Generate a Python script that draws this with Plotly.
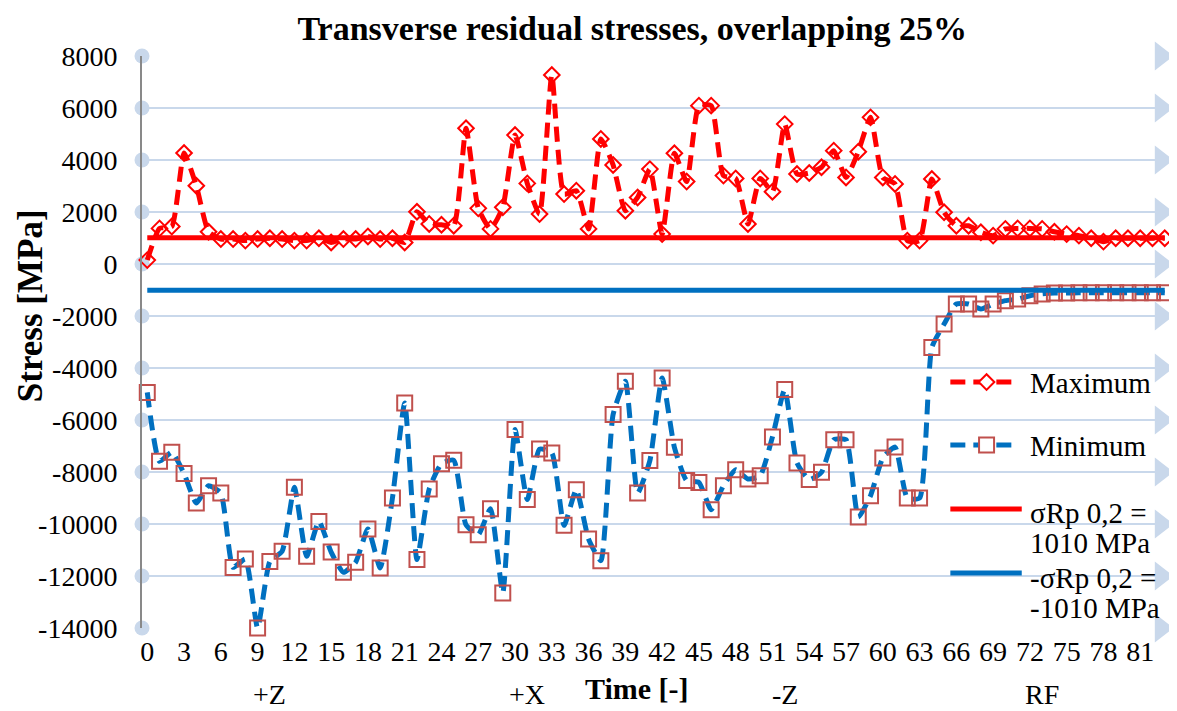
import plotly.graph_objects as go

# data
time = list(range(84))
max_stress = [150, 1370, 1440, 4270, 3010, 1240, 960, 960, 900, 960,
              990, 960, 900, 900, 990, 830, 960, 960, 1060, 960,
              990, 830, 2010, 1540, 1510, 1470, 5220, 2140, 1350, 2180,
              4960, 3100, 1920, 7270, 2690, 2820, 1350, 4810, 3810, 2050,
              2560, 3650, 1150, 4260, 3170, 6090, 6090, 3400, 3290, 1540,
              3290, 2780, 5380, 3460, 3500, 3720, 4360, 3330, 4320, 5640,
              3330, 3080, 900, 900, 3270, 1990, 1470, 1470, 1220, 1090,
              1350, 1370, 1370, 1350, 1240, 1150, 1090, 990, 860, 990,
              990, 990, 990, 990]
min_stress = [-4940, -7590, -7240, -8060, -9190, -8530, -8810, -11670, -11350, -14000,
              -11440, -11050, -8590, -11240, -9900, -11080, -11860, -11470, -10190, -11690,
              -9000, -5350, -11370, -8650, -7680, -7550, -10030, -10410, -9410, -12650,
              -6370, -9060, -7120, -7270, -10050, -8680, -10580, -11410, -5790, -4510,
              -8810, -7560, -4380, -7050, -8330, -8400, -9450, -8530, -7910, -8270,
              -8140, -6650, -4830, -7650, -8290, -8010, -6760, -6760, -9730, -8910,
              -7460, -7040, -9000, -9000, -3210, -2310, -1540, -1540, -1730, -1540,
              -1410, -1350, -1220, -1150, -1120, -1120, -1110, -1110, -1110, -1110,
              -1110, -1110, -1110, -1110]
rp02 = 1010
y_ticks = list(range(-14000, 8001, 2000))
x_ticks = list(range(0, 82, 3))
segment_labels = ["+Z", "+X", "-Z", "RF"]
segment_len = 21

FONT = "Liberation Serif, Times New Roman, serif"
RED = "#ff0000"
BLUE = "#0070c0"
BOX = "#c0504d"
GRID = "#c9d8eb"
X_RANGE = [-0.43, 84.0]
DASH = "15px,8px"

fig = go.Figure()

# gridline decorations: round dots on the axis, arrow heads on the right
fig.add_trace(go.Scatter(
    x=[X_RANGE[0]] * len(y_ticks), y=y_ticks, mode="markers",
    marker=dict(symbol="circle", size=15, color=GRID),
    cliponaxis=False, hoverinfo="skip", showlegend=False))
fig.add_trace(go.Scatter(
    x=[X_RANGE[1] - 1.3] * len(y_ticks), y=y_ticks, mode="markers",
    marker=dict(symbol="triangle-right", size=25, color=GRID),
    cliponaxis=False, hoverinfo="skip", showlegend=False))

# series
fig.add_trace(go.Scatter(
    x=time, y=max_stress, mode="lines+markers", name="Maximum",
    line=dict(color=RED, width=5, dash=DASH, shape="spline", smoothing=0.5),
    marker=dict(symbol="diamond-open", size=12, color=RED, line=dict(width=2, color=RED)),
    cliponaxis=False, showlegend=False))
fig.add_trace(go.Scatter(
    x=time, y=min_stress, mode="lines+markers", name="Minimum",
    line=dict(color=BLUE, width=5, dash=DASH, shape="spline", smoothing=0.5),
    marker=dict(symbol="square-open", size=15, color=BOX, line=dict(width=2, color=BOX)),
    cliponaxis=False, showlegend=False))
fig.add_trace(go.Scatter(
    x=time, y=[rp02] * len(time), mode="lines",
    line=dict(color=RED, width=5), showlegend=False))
fig.add_trace(go.Scatter(
    x=time, y=[-rp02] * len(time), mode="lines",
    line=dict(color=BLUE, width=5), showlegend=False))

# hand-made legend on an overlay axis (0..1 inside the plot area)
leg_x0, leg_xm, leg_x1, leg_tx = 0.781, 0.816, 0.845, 0.856
leg_rows = [0.430, 0.320, 0.208, 0.096]
for yy, color, dash in [(leg_rows[0], RED, DASH), (leg_rows[1], BLUE, DASH),
                        (leg_rows[2], RED, "solid"), (leg_rows[3], BLUE, "solid")]:
    x1 = leg_x1 if dash == DASH else leg_x1 + 0.005
    fig.add_trace(go.Scatter(
        x=[leg_x0, x1], y=[yy, yy], xaxis="x2", yaxis="y2", mode="lines",
        line=dict(color=color, width=5, dash=dash), hoverinfo="skip", showlegend=False))
fig.add_trace(go.Scatter(
    x=[leg_xm], y=[leg_rows[0]], xaxis="x2", yaxis="y2", mode="markers",
    marker=dict(symbol="diamond", size=12, color="white", line=dict(width=2, color=RED)),
    hoverinfo="skip", showlegend=False))
fig.add_trace(go.Scatter(
    x=[leg_xm], y=[leg_rows[1]], xaxis="x2", yaxis="y2", mode="markers",
    marker=dict(symbol="square", size=15, color="white", line=dict(width=2, color=BOX)),
    hoverinfo="skip", showlegend=False))

annotations = []
legend_text = [("Maximum", 0.428), ("Minimum", 0.318),
               ("σRp 0,2 =", 0.201), ("1010 MPa", 0.149),
               ("-σRp 0,2 =", 0.087), ("-1010 MPa", 0.035)]
for txt, yy in legend_text:
    annotations.append(dict(
        text=txt, x=leg_tx, y=yy, xref="paper", yref="paper",
        xanchor="left", yanchor="middle", showarrow=False,
        font=dict(family=FONT, size=29, color="black")))

# group labels under the time axis
for i, lab in enumerate(segment_labels):
    annotations.append(dict(
        text=lab, x=i * segment_len + segment_len // 2, y=-0.116,
        xref="x", yref="paper", xanchor="center", yanchor="middle",
        showarrow=False, borderpad=0,
        font=dict(family=FONT, size=28, color="black")))

annotations.append(dict(
    text="<b>Time [-]</b>", x=0.478, y=-0.106, xref="paper", yref="paper",
    xanchor="center", yanchor="middle", showarrow=False, borderpad=0,
    font=dict(family=FONT, size=30, color="black")))
annotations.append(dict(
    text="<b>Stress [MPa]</b>", x=-0.107, y=0.563, xref="paper", yref="paper",
    textangle=-90, xanchor="center", yanchor="middle", showarrow=False, borderpad=0,
    font=dict(family=FONT, size=35, color="black")))

# the page puts the figure 8px in from the corner, so size it to fill the rest
fig.update_layout(
    width=1169, height=703,
    margin=dict(l=134, r=0, t=48, b=83),
    paper_bgcolor="white", plot_bgcolor="white",
    title=dict(text="<b>Transverse residual stresses, overlapping 25%</b>",
               x=0.534, xanchor="center", y=0.972, yanchor="middle",
               font=dict(family=FONT, size=34, color="black")),
    xaxis=dict(range=X_RANGE, tickvals=x_ticks, showgrid=False, zeroline=False,
               showline=False, ticks="", ticklabelstandoff=4,
               tickfont=dict(family=FONT, size=28, color="black")),
    yaxis=dict(range=[-14000, 8000], tickvals=y_ticks, ticktext=[str(v) for v in y_ticks],
               showgrid=True, gridcolor=GRID, gridwidth=2, zeroline=False,
               showline=True, linecolor="#898989", linewidth=2, ticks="",
               ticklabelstandoff=17,
               tickfont=dict(family=FONT, size=28, color="black")),
    xaxis2=dict(overlaying="x", range=[0, 1], visible=False),
    yaxis2=dict(overlaying="y", range=[0, 1], visible=False),
    annotations=annotations,
)

fig.write_html("out.html")
